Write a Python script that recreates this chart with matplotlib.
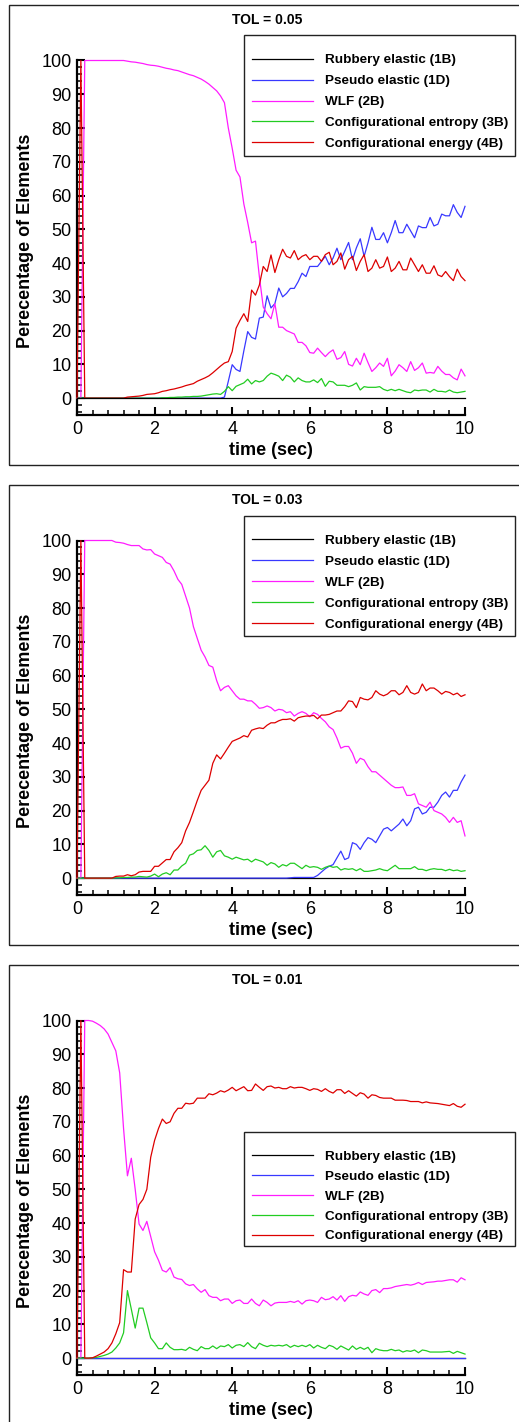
import numpy as np
import matplotlib
matplotlib.use('Agg')
import matplotlib.pyplot as plt
from matplotlib.patches import Rectangle
from matplotlib.ticker import MultipleLocator

plt.rcParams['font.family'] = ['Liberation Sans', 'DejaVu Sans']

# sample times (s), one point every 0.1 s
time = np.round(np.arange(101) * 0.1, 1)

series_labels = ['Rubbery elastic (1B)', 'Pseudo elastic (1D)', 'WLF (2B)',
                 'Configurational entropy (3B)', 'Configurational energy (4B)']
series_colors = ['black', '#3838ff', '#ff1cff', '#22cc22', '#dd0000']
titles = ['TOL = 0.05', 'TOL = 0.03', 'TOL = 0.01']

# ---------------- TOL = 0.05 ----------------
rubbery_05 = [0.0] * 101
pseudo_05 = [0, 0, 0, 0, 0, 0, 0, 0, 0, 0,
             0, 0, 0, 0, 0, 0, 0, 0, 0, 0,
             0, 0, 0, 0, 0, 0, 0, 0, 0, 0,
             0, 0, 0, 0, 0, 0, 0, 0, 0.3, 5.0,
             9.9, 8.5, 7.9, 14.0, 19.7, 18.0, 17.5, 23.7, 24.0, 30.3,
             26.7, 28.0, 32.6, 30.0, 31.0, 32.5, 32.5, 34.5, 37.0, 36.0,
             39.0, 39.0, 39.0, 40.5, 42.0, 39.5, 41.5, 44.4, 41.0, 43.5,
             46.1, 41.0, 44.5, 47.2, 42.0, 46.0, 50.6, 47.0, 47.0, 49.0,
             46.0, 49.0, 52.6, 49.0, 49.0, 51.5, 49.5, 47.5, 51.0, 50.5,
             50.5, 53.5, 51.0, 51.5, 54.5, 54.0, 54.0, 57.3, 55.0, 53.5,
             56.8]
wlf_05 = [0, 0, 100, 100, 100, 100, 100, 100, 100, 100,
          100, 100, 100, 99.8, 99.6, 99.5, 99.3, 99.1, 98.8, 98.6,
          98.5, 98.3, 98.0, 97.7, 97.5, 97.2, 97.0, 96.6, 96.2, 95.8,
          95.5, 95.0, 94.5, 93.8, 93.0, 92.0, 91.0, 89.5, 87.5, 80.0,
          74.0, 67.5, 65.5, 57.5, 52.0, 46.0, 46.5, 36.0, 27.0, 25.0,
          23.5, 28.0, 21.0, 21.0, 20.0, 19.5, 19.0, 16.5, 16.5, 15.5,
          13.5, 13.3, 14.8, 13.5, 12.3, 13.5, 14.3, 11.5, 12.0, 13.8,
          10.0, 9.5, 11.8, 9.9, 13.3, 10.5, 7.9, 9.0, 10.4, 9.4,
          11.8, 6.6, 8.0, 9.9, 9.0, 7.9, 10.8, 8.2, 9.0, 10.4,
          7.4, 7.6, 7.4, 9.4, 8.0, 7.0, 7.0, 6.0, 5.4, 8.6,
          6.6]
entropy_05 = [0, 0, 0, 0, 0, 0, 0, 0, 0, 0,
              0, 0, 0, 0, 0, 0, 0, 0, 0, 0,
              0, 0, 0.1, 0.1, 0.2, 0.2, 0.3, 0.3, 0.4, 0.4,
              0.5, 0.5, 0.6, 0.8, 1.0, 1.2, 1.3, 1.1, 2.0, 3.4,
              2.2, 3.5, 4.0, 4.5, 5.6, 4.2, 5.2, 4.8, 5.2, 6.5,
              7.4, 7.0, 6.5, 5.2, 6.8, 6.2, 4.8, 6.0, 5.2, 4.8,
              4.8, 5.4, 4.6, 5.8, 3.5, 5.0, 4.8, 3.8, 3.8, 3.8,
              3.4, 3.8, 4.5, 2.4, 3.4, 3.2, 3.2, 3.2, 3.4, 2.6,
              2.2, 2.6, 2.2, 2.6, 2.2, 1.8, 1.6, 2.4, 2.2, 2.4,
              2.4, 1.8, 2.6, 2.0, 2.0, 1.8, 2.4, 1.8, 1.6, 1.8,
              2.0]
energy_05 = [0, 100, 0, 0, 0, 0, 0, 0, 0, 0,
             0, 0, 0, 0.3, 0.4, 0.5, 0.6, 0.8, 1.1, 1.2,
             1.3, 1.6, 2.0, 2.2, 2.5, 2.7, 3.0, 3.3, 3.7, 4.0,
             4.3, 5.0, 5.5, 6.0, 6.6, 7.5, 8.5, 9.5, 10.4, 10.8,
             13.8, 20.7, 23.0, 25.0, 22.7, 32.0, 30.5, 33.5, 39.0, 37.5,
             42.4, 37.2, 41.0, 44.1, 42.0, 41.5, 43.7, 41.0, 42.0, 42.5,
             41.0, 42.0, 42.0, 40.5, 42.5, 43.2, 39.5, 40.5, 43.0, 38.2,
             41.0, 42.0, 37.8, 40.5, 42.5, 37.5, 38.5, 41.0, 38.5, 39.0,
             41.8, 37.5, 38.5, 40.5, 38.0, 38.0, 41.5, 39.5, 37.5, 39.5,
             37.0, 37.0, 39.2, 36.5, 36.0, 37.5, 36.0, 34.8, 38.2, 36.0,
             34.8]

# ---------------- TOL = 0.03 ----------------
rubbery_03 = [0.0] * 101
pseudo_03 = [0, 0, 0, 0, 0, 0, 0, 0, 0, 0,
             0, 0, 0, 0, 0, 0, 0, 0, 0, 0,
             0, 0, 0, 0, 0, 0, 0, 0, 0, 0,
             0, 0, 0, 0, 0, 0, 0, 0, 0, 0,
             0, 0, 0, 0, 0, 0, 0, 0, 0, 0,
             0, 0, 0, 0, 0, 0.1, 0.2, 0.2, 0.2, 0.2,
             0.2, 0.2, 0.8, 1.8, 2.8, 3.5, 4.0, 6.0, 8.0, 5.5,
             6.0, 10.5, 10.0, 8.5, 10.5, 12.0, 11.5, 10.5, 12.5, 14.5,
             15.0, 14.0, 15.0, 16.0, 17.5, 15.5, 17.0, 20.5, 21.0, 19.0,
             19.5, 21.0, 21.0, 22.5, 24.5, 25.5, 24.0, 26.0, 26.0, 28.5,
             30.5]
wlf_03 = [0, 0, 100, 100, 100, 100, 100, 100, 100, 100,
          99.5, 99.4, 99.2, 98.8, 98.5, 98.5, 98.5, 97.5, 97.2, 97.3,
          96.0, 95.5, 95.0, 93.5, 93.0, 91.0, 88.5, 87.0, 83.5, 80.0,
          74.5, 71.0, 67.5, 65.5, 63.0, 62.5, 58.5, 55.5, 56.5, 57.0,
          55.5, 54.0, 53.0, 53.0, 52.5, 52.5, 51.5, 50.3, 50.5, 51.0,
          50.5, 49.5, 50.0, 49.8, 49.0, 49.3, 48.0, 48.8, 49.3, 48.8,
          47.8, 49.0, 48.5, 47.3, 46.3, 44.8, 44.0, 41.5, 38.5, 39.0,
          39.0, 37.0, 34.0, 35.5, 35.0, 33.0, 31.5, 31.5, 30.5, 29.5,
          28.5, 27.5, 26.8, 26.8, 27.0, 24.5, 24.5, 25.0, 22.0, 21.5,
          21.0, 22.5, 20.0, 19.5, 19.0, 18.0, 16.5, 18.0, 16.5, 17.0,
          12.5]
entropy_03 = [0, 0, 0, 0, 0, 0, 0, 0, 0, 0,
              0.1, 0.1, 0.2, 0.2, 0.3, 0.3, 0.5, 0.4, 0.3, 0.6,
              1.2, 0.4, 1.2, 1.6, 1.0, 2.4, 2.4, 3.6, 4.4, 6.8,
              7.2, 8.2, 8.4, 9.6, 8.2, 6.2, 7.8, 8.2, 6.6, 6.2,
              5.6, 6.2, 5.8, 5.4, 5.6, 4.8, 5.6, 5.2, 4.8, 3.8,
              4.6, 4.2, 3.2, 4.0, 3.6, 4.4, 4.4, 3.6, 2.8, 3.8,
              3.2, 3.4, 3.2, 2.6, 3.2, 3.6, 3.2, 3.4, 2.4, 2.8,
              2.6, 2.8, 2.2, 2.8, 2.0, 2.0, 2.2, 2.4, 2.8, 2.4,
              2.2, 3.0, 3.8, 2.8, 2.8, 2.8, 2.8, 3.4, 2.6, 2.6,
              2.2, 2.6, 2.8, 2.6, 2.6, 2.2, 2.6, 2.2, 2.4, 2.0,
              2.2]
energy_03 = [0, 100, 0, 0, 0, 0, 0, 0, 0, 0,
             0.5, 0.6, 0.6, 1.0, 0.7, 1.0, 1.8, 2.0, 2.0, 2.0,
             3.5, 3.5, 4.5, 5.5, 5.5, 7.8, 9.0, 10.5, 14.0, 16.5,
             19.7, 23.0, 26.0, 27.5, 29.0, 34.0, 36.5, 35.3, 37.0, 38.8,
             40.5, 41.0, 41.5, 42.2, 41.8, 43.8, 44.2, 44.5, 44.3, 45.3,
             46.0, 46.0, 46.6, 47.0, 47.0, 47.2, 46.5, 47.5, 47.8, 48.0,
             48.0, 48.2, 47.2, 48.3, 48.3, 48.5, 49.0, 49.5, 49.5, 50.8,
             52.5, 52.3, 50.5, 53.5, 53.0, 52.8, 53.5, 55.5, 54.5, 54.0,
             54.5, 55.5, 55.5, 54.3, 55.0, 57.0, 55.0, 54.5, 55.0, 57.5,
             55.5, 56.3, 56.3, 55.5, 54.5, 55.3, 55.0, 54.3, 54.8, 53.8,
             54.3]

# ---------------- TOL = 0.01 ----------------
rubbery_01 = [0.0] * 101
pseudo_01 = [0.0] * 101
wlf_01 = [0, 0, 100, 100, 99.8, 99.2, 98.5, 97.5, 96.0, 93.5,
          91.0, 84.5, 68.0, 54.0, 59.2, 50.0, 39.7, 37.8, 40.5, 36.0,
          31.5, 29.0, 26.0, 25.5, 26.8, 24.0, 23.5, 23.3, 22.0, 21.5,
          21.8, 20.5, 19.5, 20.3, 18.5, 18.0, 18.0, 17.0, 17.5, 17.5,
          16.2, 17.0, 17.2, 16.2, 16.2, 17.5, 16.2, 15.5, 17.2, 16.5,
          15.5, 16.3, 16.5, 16.5, 16.5, 16.8, 16.5, 17.0, 16.0, 17.0,
          17.2, 17.0, 16.5, 18.0, 17.3, 17.5, 18.2, 17.2, 18.5, 16.8,
          18.2, 18.6, 18.4, 19.6, 19.0, 18.6, 20.0, 20.3, 19.4, 20.6,
          20.6, 20.8, 21.2, 21.4, 21.6, 21.8, 21.6, 21.9, 22.4, 21.8,
          22.4, 22.5, 22.6, 22.8, 22.8, 23.0, 23.2, 23.2, 22.5, 23.8,
          23.2]
entropy_01 = [0, 0, 0, 0, 0.1, 0.2, 0.5, 0.8, 1.2, 1.8,
              3.0, 4.5, 7.5, 20.0, 14.5, 8.9, 14.8, 14.8, 10.5, 6.0,
              4.5, 2.8, 2.8, 4.5, 3.2, 2.5, 2.5, 2.6, 2.3, 3.2,
              2.6, 2.2, 3.4, 2.8, 2.8, 3.6, 2.8, 3.6, 3.4, 4.0,
              3.0, 3.8, 4.0, 3.4, 4.6, 3.4, 2.8, 4.4, 3.8, 3.4,
              3.8, 3.6, 3.8, 3.6, 4.0, 3.2, 3.8, 3.4, 3.8, 3.4,
              4.0, 3.0, 3.8, 3.2, 2.8, 3.8, 3.4, 2.6, 3.6, 3.0,
              2.4, 3.6, 2.6, 3.2, 2.6, 3.2, 1.6, 2.8, 2.4, 2.2,
              2.2, 2.6, 2.2, 2.4, 1.8, 2.2, 2.0, 2.4, 1.6, 2.4,
              2.2, 1.8, 1.8, 1.8, 1.8, 1.9, 2.0, 1.4, 2.0, 1.6,
              1.2]
energy_01 = [0, 100, 0, 0, 0.1, 0.6, 1.2, 1.8, 2.8, 4.5,
             7.2, 10.5, 26.2, 25.5, 25.5, 41.2, 45.5, 47.0, 50.0, 59.5,
             64.5, 68.0, 70.8, 69.5, 70.0, 72.5, 74.0, 74.0, 75.5, 75.3,
             75.5, 77.0, 77.0, 77.0, 78.3, 78.0, 78.5, 79.2, 78.8, 79.4,
             80.2, 79.2, 79.8, 80.4, 79.2, 79.3, 81.2, 80.2, 79.3, 80.4,
             80.6, 80.0, 80.2, 79.8, 79.8, 80.4, 80.0, 80.2, 80.2, 79.8,
             79.3, 79.8, 79.6, 79.0, 79.8, 79.0, 78.5, 79.5, 79.5, 78.4,
             79.2, 78.4, 77.6, 78.6, 78.2, 77.0, 78.0, 77.8, 77.2, 77.0,
             77.0, 77.0, 76.4, 76.4, 76.4, 76.3, 76.0, 76.0, 76.0, 75.6,
             75.9, 75.6, 75.5, 75.4, 75.2, 75.0, 74.8, 75.4, 74.6, 74.3,
             75.2]

panels = [
    [rubbery_05, pseudo_05, wlf_05, entropy_05, energy_05],
    [rubbery_03, pseudo_03, wlf_03, entropy_03, energy_03],
    [rubbery_01, pseudo_01, wlf_01, entropy_01, energy_01],
]

W, H = 519, 1422
fig = plt.figure(figsize=(W / 100, H / 100), dpi=100)

# legend boxes (top, bottom) in pixels for each panel
legend_boxes = [(35, 156), (515.7, 636), (1131.7, 1246)]
legend_spacing = [0.63, 0.63, 0.55]

for k, data in enumerate(panels):
    off = 480 * k
    ax = fig.add_axes([77 / W, 1 - (415 + off) / H, 388 / W, 354.5 / H])

    # panel border
    fig.add_artist(Rectangle((9 / W, 1 - (465 + off) / H), 2, 460 / H,
                             transform=fig.transFigure, fill=False,
                             edgecolor='#222222', lw=1.0))

    for i, (vals, lab, col) in enumerate(zip(data, series_labels, series_colors)):
        z = 2 + i
        if i == 0 and k == 0:
            z = 10
        ax.plot(time, vals, color=col, lw=0.9, label=lab, zorder=z, clip_on=False)

    ax.set_xlim(0, 10)
    ax.set_ylim(-5, 100)
    ax.spines['top'].set_visible(False)
    ax.spines['right'].set_visible(False)
    ax.spines['left'].set_linewidth(1.6)
    ax.spines['bottom'].set_linewidth(1.6)
    ax.xaxis.set_major_locator(MultipleLocator(2))
    ax.xaxis.set_minor_locator(MultipleLocator(0.4))
    ax.yaxis.set_major_locator(MultipleLocator(10))
    ax.yaxis.set_minor_locator(MultipleLocator(2))
    ax.tick_params(which='major', direction='in', length=6, width=1.5,
                   labelsize=13, pad=4)
    ax.tick_params(which='minor', direction='in', length=3.5, width=1.1)

    ax.set_xlabel('time (sec)', fontsize=13, fontweight='bold')
    ax.xaxis.set_label_coords(0.5, -0.076)
    ax.set_ylabel('Perecentage of Elements', fontsize=13, fontweight='bold')
    ax.yaxis.set_label_coords(-0.110, 0.49)

    ax.text(0.49, 1.115, titles[k], transform=ax.transAxes, ha='center',
            va='center', fontsize=10, fontweight='bold')

    top, bot = legend_boxes[k]
    fig.add_artist(Rectangle((244 / W, 1 - bot / H), 271 / W, (bot - top) / H,
                             transform=fig.transFigure, fill=False,
                             edgecolor='#222222', lw=1.0))
    leg = ax.legend(loc='upper left', bbox_to_anchor=(252 / W, 1 - (top + 19) / H),
                    bbox_transform=fig.transFigure, frameon=False, borderpad=0,
                    borderaxespad=0, handlelength=4.55, handletextpad=0.9,
                    labelspacing=legend_spacing[k],
                    prop={'size': 9.7, 'weight': 'bold'})

fig.savefig('out.png', dpi=100)
